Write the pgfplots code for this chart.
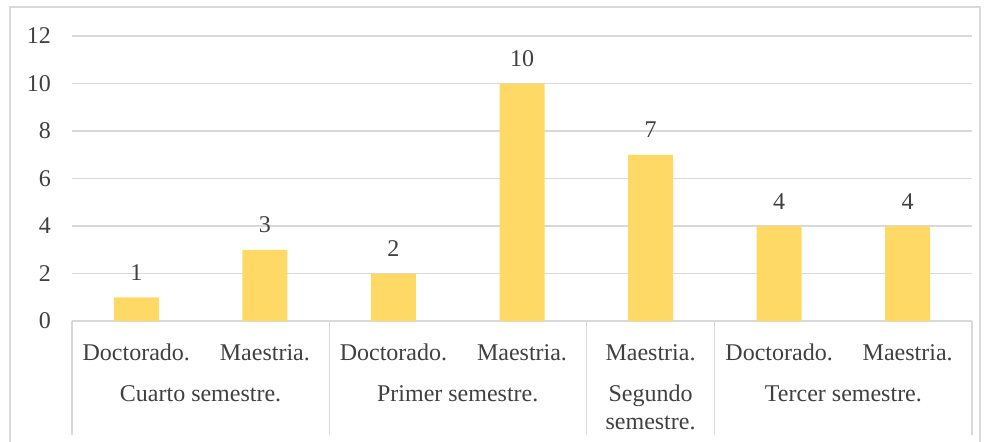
\documentclass[border=0pt]{standalone}
\usepackage{pgfplots}
\pgfplotsset{compat=1.18}
\usepackage{fontspec}
\setmainfont{Liberation Serif}
\definecolor{barY}{HTML}{FFD966}
\definecolor{gridG}{HTML}{D9D9D9}
\definecolor{txt}{HTML}{404040}
\begin{document}
\begin{tikzpicture}[font=\fontsize{12}{14}\selectfont, x=1pt, y=1pt]
\useasboundingbox (0,0) rectangle (492.5,220.5);
\draw[gridG, line width=0.6pt] (5,-10) rectangle (490,217);
\begin{axis}[
  at={(36pt,60pt)}, anchor=south west,
  scale only axis, width=450pt, height=142.5pt,
  xmin=-0.5, xmax=6.5, ymin=0, ymax=12,
  ytick={0,2,...,12},
  xtick={0,1,2,3,4,5,6},
  xticklabels={Doctorado.,Maestria.,Doctorado.,Maestria.,Maestria.,Doctorado.,Maestria.},
  xticklabel style={anchor=base, yshift=-15.5pt, text=txt},
  yticklabel style={xshift=-7pt, text=txt},
  /pgf/number format/assume math mode=true,
  axis line style={draw=none},
  ymajorgrids, grid style={gridG, line width=0.6pt},
  tick pos=left,
  xtick style={draw=none}, ytick style={draw=none},
  extra x ticks={-0.5,1.5,3.5,4.5,6.5},
  extra x tick labels={},
  extra x tick style={grid=none, major tick length=57pt, tick align=outside,
     xtick style={draw=gridG, line width=0.6pt}},
  ybar, bar width=22.5pt,
  nodes near coords,
  nodes near coords style={anchor=base, yshift=8.5pt, text=txt},
  clip=false,
]
\addplot[fill=barY, draw=none] coordinates {(0,1) (1,3) (2,2) (3,10) (4,7) (5,4) (6,4)};
\node[anchor=base, text=txt] at (axis cs:0.5,0) [yshift=-40pt] {Cuarto semestre.};
\node[anchor=base, text=txt] at (axis cs:2.5,0) [yshift=-40pt] {Primer semestre.};
\node[anchor=base, text=txt] at (axis cs:4,0) [yshift=-40pt] {Segundo};
\node[anchor=base, text=txt] at (axis cs:4,0) [yshift=-54pt] {semestre.};
\node[anchor=base, text=txt] at (axis cs:5.5,0) [yshift=-40pt] {Tercer semestre.};
\end{axis}
\end{tikzpicture}
\end{document}
